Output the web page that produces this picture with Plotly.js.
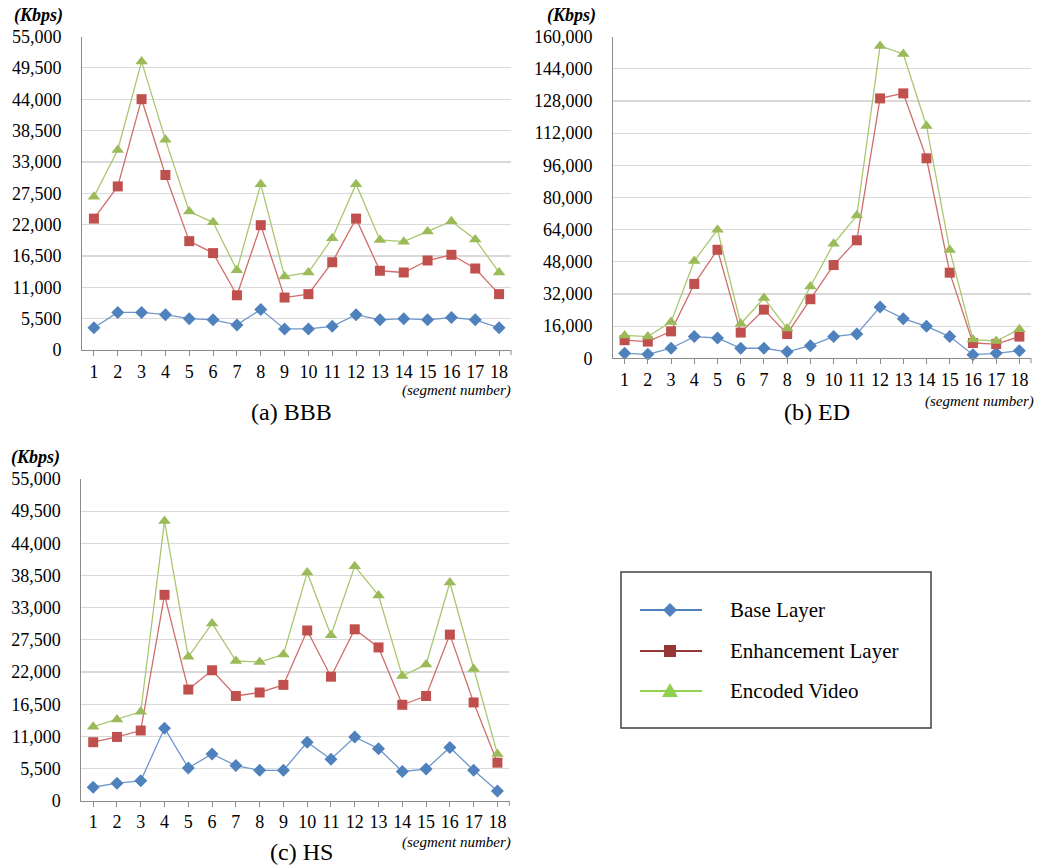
<!DOCTYPE html>
<html>
<head>
<meta charset="utf-8">
<script src="https://cdn.plot.ly/plotly-3.0.1.min.js"></script>
<style>html,body{margin:0;padding:0;background:#fff;}#chart{width:1037px;height:865px;}</style>
</head>
<body>
<div id="chart"></div>
<script>
// ---------- DATA ----------
const segments = [1,2,3,4,5,6,7,8,9,10,11,12,13,14,15,16,17,18];
const seriesNames = ["Base Layer", "Enhancement Layer", "Encoded Video"];

// (a) BBB
const bbbBase = [3900,6600,6600,6200,5500,5300,4400,7100,3700,3700,4150,6200,5300,5500,5300,5700,5300,3900];
const bbbEnh  = [23050,28700,44000,30700,19100,17000,9600,21900,9200,9800,15400,23050,13900,13600,15700,16700,14300,9800];
const bbbEnc  = [26900,35100,50600,36900,24300,22400,14000,29100,12900,13600,19600,29100,19300,19000,20800,22600,19400,13600];

// (b) ED
const edBase = [2500,2000,5000,10800,10100,5000,5000,3200,6300,10800,12100,25500,19700,15900,10800,1800,2500,3800];
const edEnh  = [9000,8300,13400,37000,54000,12800,24200,12100,29400,46400,58700,129300,131800,99500,42600,7600,7100,10800];
const edEnc  = [11400,10800,18100,48400,64000,17200,30000,14800,35700,57000,71000,155400,151400,115600,53900,9300,8600,14400];

// (c) HS
const hsBase = [2300,3000,3400,12400,5600,8000,6000,5200,5200,10000,7100,10900,8900,5000,5400,9100,5200,1650];
const hsEnh  = [10000,10900,12000,35200,19000,22300,17900,18500,19800,29100,21200,29300,26200,16400,17900,28400,16800,6500];
const hsEnc  = [12650,13900,15200,47800,24600,30300,23900,23700,25000,39000,28300,40100,35100,21300,23300,37300,22500,8000];

const yTicksSmall = [0,5500,11000,16500,22000,27500,33000,38500,44000,49500,55000];
const yTicksED = [0,16000,32000,48000,64000,80000,96000,112000,128000,144000,160000];

const captions = ["(a) BBB", "(b) ED", "(c) HS"];
const unitLabel = "(Kbps)";
const xAxisLabel = "(segment number)";

// ---------- STYLE ----------
const W = 1037, H = 865;
const px = x => x / W;
const py = y => 1 - y / H;
const FONT = "Liberation Serif";
const colBase = "#4F81BD", colEnh = "#C0504D", colEnc = "#9BBB59";
const lineBase = "#6F97CC", lineEnh = "#CF6E6B", lineEnc = "#A9C76F";

const panels = [
  {data:[bbbBase,bbbEnh,bbbEnc], x:[82,511], y:[36.5,350], ticks:yTicksSmall, max:55000},
  {data:[edBase,edEnh,edEnc],   x:[613,1031], y:[36.7,358.3], ticks:yTicksED, max:160000},
  {data:[hsBase,hsEnh,hsEnc],   x:[81.3,509.3], y:[479,800.7], ticks:yTicksSmall, max:55000}
];

const markerDefs = [
  {symbol:"diamond", size:10, color:colBase, line:lineBase},
  {symbol:"square", size:10, color:colEnh, line:lineEnh},
  {symbol:"triangle-up", size:11, color:colEnc, line:lineEnc}
];

const traces = [];
const layout = {
  width: W, height: H,
  margin: {l:0, r:0, t:0, b:0},
  paper_bgcolor: "#fff", plot_bgcolor: "#fff",
  showlegend: false,
  font: {family: FONT, color: "#000"},
  annotations: [], shapes: []
};

panels.forEach((p, i) => {
  const n = i === 0 ? "" : String(i + 1);
  const xa = "xaxis" + n, ya = "yaxis" + n;
  layout[xa] = {
    domain: [px(p.x[0]), px(p.x[1])],
    anchor: "y" + n,
    range: [0.5, 18.5],
    tickmode: "array", tickvals: segments, ticktext: segments.map(String),
    ticks: "outside", ticklen: 5, tickcolor: "#8C8C8C", tickwidth: 1,
    showline: true, linecolor: "#8C8C8C", linewidth: 1,
    showgrid: false, zeroline: false,
    tickfont: {family: FONT, size: 18, color: "#000"},
    fixedrange: true
  };
  layout[ya] = {
    domain: [py(p.y[1]), py(p.y[0])],
    anchor: "x" + n,
    range: [0, p.max],
    tickmode: "array", tickvals: p.ticks,
    ticktext: p.ticks.map(v => v.toLocaleString("en-US")),
    ticks: "", showline: true, linecolor: "#8C8C8C", linewidth: 1,
    showgrid: true, gridcolor: "#D9D9D9", gridwidth: 1.2,
    zeroline: false, ticklabelstandoff: 16,
    tickfont: {family: FONT, size: 18, color: "#000"},
    fixedrange: true
  };
  // closing tick at right end of category axis
  layout.shapes.push({type:"line", xref:"paper", yref:"paper",
    x0:px(p.x[1]), x1:px(p.x[1]), y0:py(p.y[1]), y1:py(p.y[1] + 5),
    line:{color:"#8C8C8C", width:1}});
  p.data.forEach((vals, k) => {
    const m = markerDefs[k];
    traces.push({
      type: "scatter", mode: "lines+markers",
      x: segments, y: vals, name: seriesNames[k],
      xaxis: "x" + n, yaxis: "y" + n,
      line: {color: m.line, width: 1.3},
      marker: {symbol: m.symbol, size: m.size, color: m.color, line: {width: 0}},
      cliponaxis: false, hoverinfo: "skip"
    });
  });
});

// unit labels, axis labels, captions
const unitPos = [[38,15],[571,15],[35,457]];
const segPos = [[513,391],[1036,401],[513,842]];
const capPos = [[291,412],[817,412],[301,852]];
for (let i = 0; i < 3; i++) {
  layout.annotations.push({xref:"paper", yref:"paper", x:px(unitPos[i][0]), y:py(unitPos[i][1]),
    text:"<b><i>" + unitLabel + "</i></b>", showarrow:false, xanchor:"center", yanchor:"middle",
    font:{family:FONT, size:18, color:"#000"}});
  layout.annotations.push({xref:"paper", yref:"paper", x:px(segPos[i][0]), y:py(segPos[i][1]),
    text:"<i>" + xAxisLabel + "</i>", showarrow:false, xanchor:"right", yanchor:"middle",
    font:{family:FONT, size:15, color:"#000"}});
  layout.annotations.push({xref:"paper", yref:"paper", x:px(capPos[i][0]), y:py(capPos[i][1]),
    text:captions[i], showarrow:false, xanchor:"center", yanchor:"middle",
    font:{family:FONT, size:24, color:"#000"}});
}

// ---------- LEGEND (drawn box) ----------
layout.shapes.push({type:"rect", xref:"paper", yref:"paper",
  x0:px(621), x1:px(931), y0:py(728), y1:py(572),
  line:{color:"#404040", width:1.5}, fillcolor:"rgba(0,0,0,0)"});
const legRows = [610, 651, 691];
const legLine = ["#4F81BD", "#953735", "#92D050"];
const legMark = ["#4F81BD", "#953735", "#92D050"];
legRows.forEach((yy, k) => {
  layout.shapes.push({type:"line", xref:"paper", yref:"paper",
    x0:px(640), x1:px(702), y0:py(yy), y1:py(yy), line:{color:legLine[k], width:2}});
  const cx = 670, s = 6;
  let path;
  if (k === 0) path = `M ${px(cx)} ${py(yy - s - 1)} L ${px(cx + s + 1)} ${py(yy)} L ${px(cx)} ${py(yy + s + 1)} L ${px(cx - s - 1)} ${py(yy)} Z`;
  else if (k === 1) path = `M ${px(cx - s)} ${py(yy - s)} L ${px(cx + s)} ${py(yy - s)} L ${px(cx + s)} ${py(yy + s)} L ${px(cx - s)} ${py(yy + s)} Z`;
  else path = `M ${px(cx)} ${py(yy - 8)} L ${px(cx + 8)} ${py(yy + 6)} L ${px(cx - 8)} ${py(yy + 6)} Z`;
  layout.shapes.push({type:"path", xref:"paper", yref:"paper", path:path,
    fillcolor:legMark[k], line:{width:0}});
  layout.annotations.push({xref:"paper", yref:"paper", x:px(728), y:py(yy),
    text:seriesNames[k], showarrow:false, xanchor:"left", yanchor:"middle",
    font:{family:FONT, size:21, color:"#000"}});
});

Plotly.newPlot("chart", traces, layout, {displayModeBar:false, staticPlot:true});
</script>
</body>
</html>
